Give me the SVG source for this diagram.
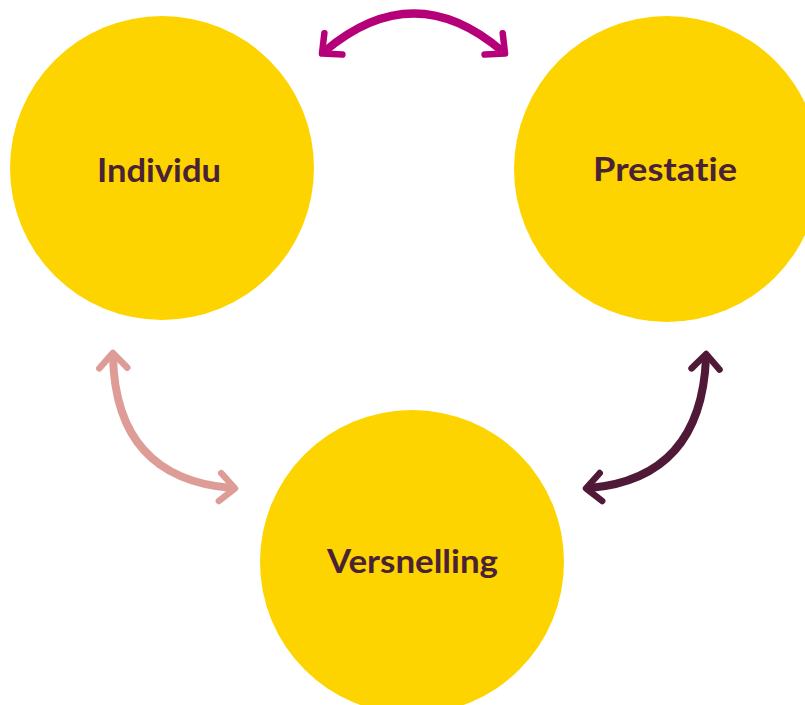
<svg xmlns="http://www.w3.org/2000/svg" width="805" height="705" viewBox="0 0 805 705">
  <style>
    .node { fill: #FDD400; }
    .label { font-family: Lato, "Open Sans", "Liberation Sans", sans-serif; font-weight: 700; font-size: 33px; fill: #4A2236; text-anchor: middle; font-variant-ligatures: none; font-feature-settings: "liga" 0, "clig" 0; }
    .conn { fill: none; stroke-width: 8; stroke-linecap: butt; }
    .head { fill: none; stroke-width: 6.5; stroke-linecap: round; stroke-linejoin: round; }
  </style>
  <defs>
    <marker id="mMag" markerUnits="userSpaceOnUse" viewBox="-20 -20 40 40" markerWidth="40" markerHeight="40" refX="0" refY="0" orient="auto-start-reverse" overflow="visible">
      <path class="head" stroke="#B5007A" d="M -11,-14 L 4,0 L -11,14"/>
    </marker>
    <marker id="mPink" markerUnits="userSpaceOnUse" viewBox="-20 -20 40 40" markerWidth="40" markerHeight="40" refX="0" refY="0" orient="auto-start-reverse" overflow="visible">
      <path class="head" stroke="#DE9C97" d="M -11,-14 L 4,0 L -11,14"/>
    </marker>
    <marker id="mDark" markerUnits="userSpaceOnUse" viewBox="-20 -20 40 40" markerWidth="40" markerHeight="40" refX="0" refY="0" orient="auto-start-reverse" overflow="visible">
      <path class="head" stroke="#501937" d="M -11,-14 L 4,0 L -11,14"/>
    </marker>
  </defs>
  <rect width="805" height="705" fill="#FFFFFF"/>
  <g id="connectors">
    <path class="conn" stroke="#B5007A" d="M 325,51 Q 414,-24 502,51" marker-start="url(#mMag)" marker-end="url(#mMag)"/>
    <path class="conn" stroke="#DE9C97" d="M 113,357 Q 116,478 231,488" marker-start="url(#mPink)" marker-end="url(#mPink)"/>
    <path class="conn" stroke="#501937" d="M 706,358 Q 701,478 590,488" marker-start="url(#mDark)" marker-end="url(#mDark)"/>
  </g>
  <g id="individu">
    <circle class="node" cx="162" cy="168" r="152"/>
    <text class="label" x="159" y="182" textLength="124" lengthAdjust="spacingAndGlyphs">Individu</text>
  </g>
  <g id="prestatie">
    <circle class="node" cx="667" cy="169" r="153"/>
    <text class="label" x="665" y="181" textLength="144" lengthAdjust="spacingAndGlyphs">Prestatie</text>
  </g>
  <g id="versnelling">
    <circle class="node" cx="412" cy="562" r="152"/>
    <text class="label" x="412.5" y="573" textLength="171" lengthAdjust="spacingAndGlyphs">Versnelling</text>
  </g>
</svg>
